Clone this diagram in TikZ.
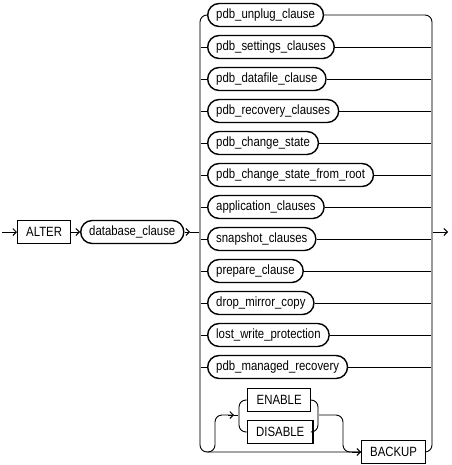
\documentclass[tikz,border=0pt]{standalone}
\usepackage{fontspec}
\setmainfont{Liberation Sans}[FakeStretch=0.85]
\usetikzlibrary{arrows.meta}
\begin{document}
\begin{tikzpicture}[x=1pt,y=-1pt,
  box/.style={draw, anchor=west, font=\fontsize{13.4}{15}\selectfont, inner xsep=8.5pt, inner ysep=0pt, minimum height=23pt, line width=1.4pt},
  nt/.style={box, rounded corners=11.5pt},
  kw/.style={box},
  ln/.style={line width=0.9pt, black},
  rail/.style={line width=1.9pt, gray!80},
  arr/.style={-{Straight Barb[length=3.5pt,width=7pt,line width=0.9pt]}},
  rc/.style={rounded corners=7pt}]
\useasboundingbox (0,0) rectangle (451,465);
\coordinate (lr) at (200,0);
\coordinate (rr) at (432,0);
% main entry
\node[kw] (alter) at (17,232) {ALTER};
\node[nt] (db) at (80,232) {database\_clause};
\coordinate (start) at (2,232);
\coordinate (dbarr) at (190,232);
\coordinate (mainl) at (200,232);
\coordinate (mainr) at (432,232);
\coordinate (finish) at (448,232);
\draw[ln,arr] (start) -- (alter.west);
\draw[ln,arr] (alter.east) -- (db.west);
\draw[ln,arr] (db.east) -- (dbarr);
\draw[ln] (dbarr) -- (mainl);
\draw[ln,arr] (mainr) -- (finish);
% branches
\foreach \i/\y/\t in {1/15/pdb\_unplug\_clause,2/47/pdb\_settings\_clauses,3/79/pdb\_datafile\_clause,4/111/pdb\_recovery\_clauses,5/143/pdb\_change\_state,6/175/pdb\_change\_state\_from\_root,7/207/application\_clauses,8/239/snapshot\_clauses,9/271/prepare\_clause,10/303/drop\_mirror\_copy,11/335/lost\_write\_protection,12/367/pdb\_managed\_recovery}{
  \node[nt] (n\i) at (207,\y) {\t};
}
\foreach \i in {2,...,12}{
  \draw[ln] (n\i.west -| lr) -- (n\i.west);
  \draw[ln] (n\i.east) -- (n\i.east -| rr);
}
% ENABLE / DISABLE / BACKUP
\node[kw, minimum width=63pt] (en) at (247,400) {ENABLE};
\node[kw, minimum width=63pt] (dis) at (247,432) {DISABLE};
\node[kw] (backup) at (361,452) {BACKUP};
\coordinate (lrtop) at (200,27);
\coordinate (lrbot) at (200,440);
\coordinate (rrtop) at (432,27);
\coordinate (rrbot) at (432,440);
\draw[ln,rc] (lrtop) -- (n1.west -| lr) -- (n1.west);
\draw[ln,rc] (n1.east) -- (n1.east -| rr) -- (rrtop);
\draw[ln,rc] (lrbot) -- (backup.west -| lr) -- (backup.west);
\draw[ln,rc] (backup.east) -- (backup.east -| rr) -- (rrbot);
% optional ENABLE/DISABLE loop
\coordinate (upa) at (207,452);
\coordinate (upb) at (215,452);
\coordinate (upc) at (215,415);
\coordinate (upd) at (234,415);
\coordinate (ilr) at (239,415);
\coordinate (irr) at (318,415);
\coordinate (outb) at (343,415);
\coordinate (outc) at (343,452);
\draw[ln,rc] (upa) -- (upb) -- (upc) -- (upd);
\draw[ln,arr] (228,415) -- (upd);
\draw[ln] (upd) -- (ilr);
\draw[ln,rc] (239,411) -- (en.west -| ilr) -- (en.west);
\draw[ln,rc] (239,419) -- (dis.west -| ilr) -- (dis.west);
\draw[ln,rc] (en.east) -- (en.east -| irr) -- (318,411);
\draw[ln,rc] (dis.east) -- (dis.east -| irr) -- (318,419);
\draw[ln,rc] (irr) -- (outb) -- (outc) -- (backup.west);
\draw[ln,arr] (352,452) -- (backup.west);
% rails
\draw[rail] (200,22) -- (200,445);
\draw[rail] (432,22) -- (432,445);
\draw[rail] (239,407) -- (239,425);
\draw[rail] (318,407) -- (318,425);
\end{tikzpicture}
\end{document}
